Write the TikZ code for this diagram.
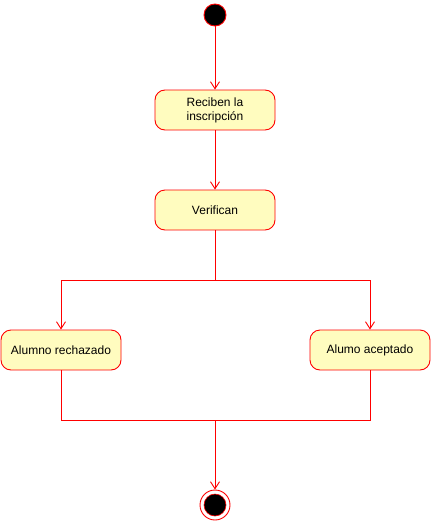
\documentclass[tikz,border=0pt]{standalone}
\usepackage{fontspec}
\setmainfont{Liberation Sans}
\usetikzlibrary{arrows.meta}
\tikzset{
  activity/.style={draw=red, fill=yellow!25!white, line width=0.9pt, rounded corners=10pt,
    minimum width=120pt, minimum height=40pt, inner sep=0pt, align=center,
    font=\fontsize{12}{14}\selectfont},
  flow/.style={draw=red, line width=0.9pt, -{Straight Barb[length=7pt,width=9pt]}},
  link/.style={draw=red, line width=0.9pt}
}
\begin{document}
\begin{tikzpicture}[x=1pt, y=-1pt]
  \useasboundingbox (0,0) rectangle (431,522);
  % Initial state
  \node[circle, draw=red, fill=black, line width=0.9pt, minimum size=22pt, inner sep=0pt] (start) at (215,15) {};
  % Activities
  \node[activity] (recibe) at (215,110) {Reciben la\\inscripción};
  \node[activity] (verifican) at (215,210) {Verifican};
  \node[activity] (rechazado) at (61,350) {Alumno rechazado};
  \node[activity] (aceptado) at (370,350) {Alumo aceptado};
  % Final state
  \node[circle, draw=red, fill=white, line width=0.9pt, minimum size=30pt, inner sep=0pt] (fin) at (215,505) {};
  \node[circle, draw=red, fill=black, line width=0.6pt, minimum size=22pt, inner sep=0pt] (finin) at (fin) {};
  % Branch points
  \coordinate (split) at (215,280);
  \coordinate (join) at (215,420);
  % Transitions
  \draw[flow] (start) -- (recibe);
  \draw[flow] (recibe) -- (verifican);
  \draw[link] (verifican) -- (split);
  \draw[flow] (split) -| (rechazado.north);
  \draw[flow] (split) -| (aceptado.north);
  \draw[link] (rechazado.south) |- (join);
  \draw[link] (aceptado.south) |- (join);
  \draw[flow] (join) -- (fin);
\end{tikzpicture}
\end{document}
